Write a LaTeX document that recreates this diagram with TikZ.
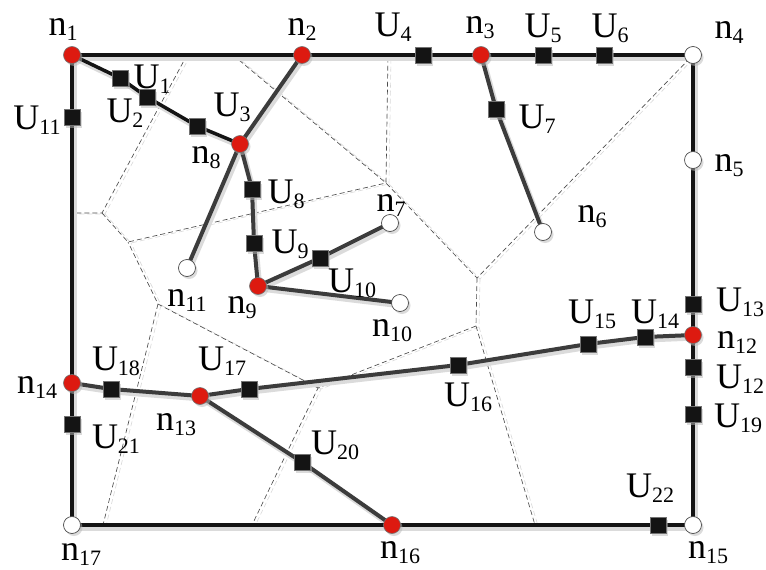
\documentclass[tikz,border=0pt]{standalone}
\usepackage{fontspec}
\setmainfont{Liberation Serif}
\usetikzlibrary{shadows}
\definecolor{nred}{HTML}{DD1A10}
\definecolor{edgegray}{HTML}{3C3C3C}
\newcommand\lbl[2]{#1\raisebox{-5pt}{\fontsize{22}{22}\selectfont #2}}
\begin{document}
\begin{tikzpicture}[x=1pt,y=-1pt,
  nshadow/.style={drop shadow={shadow xshift=2pt,shadow yshift=-2.5pt,fill=black!28}},
  redn/.style={circle,draw=black!55,line width=0.6pt,fill=nred,minimum size=17pt,inner sep=0pt,nshadow},
  whn/.style={circle,draw=black!70,line width=0.7pt,fill=white,minimum size=17pt,inner sep=0pt,nshadow},
  sq/.style={rectangle,fill=black!92,draw=black!55,line width=0.5pt,minimum size=16pt,inner sep=0pt,nshadow},
  lab/.style={inner sep=0pt,font=\fontsize{36}{40}\selectfont},
  bnd/.style={line width=3.5pt,draw=black!92,line cap=round,line join=round},
  edg/.style={line width=4pt,draw=edgegray,line cap=round,line join=round},
  shd/.style={line width=5pt,draw=black!14,line cap=round,line join=round,transform canvas={xshift=2pt,yshift=-3pt}},
  vor/.style={dash pattern=on 5pt off 3pt,line width=0.65pt,draw=black!70},
  vors/.style={dash pattern=on 5pt off 3pt,line width=0.6pt,draw=black!15,transform canvas={xshift=3pt,yshift=-1pt}}
]
\useasboundingbox (0,0) rectangle (766,570);
\fill[white] (0,0) rectangle (766,570);

% Voronoi vertices and border points
\coordinate (v1) at (102,213);
\coordinate (v2) at (128,242);
\coordinate (v3) at (386,183);
\coordinate (v4) at (477,278);
\coordinate (v5) at (476,326);
\coordinate (v6) at (318,388);
\coordinate (v7) at (158,304);
\coordinate (b1) at (187,55);
\coordinate (b2) at (72,213);
\coordinate (b3) at (388,55);
\coordinate (b4) at (233,55);
\coordinate (b5) at (693,55);
\coordinate (b6) at (535,525);
\coordinate (b7) at (252,525);
\coordinate (b8) at (103,525);

\foreach \s in {vors,vor}{
  \draw[\s] (b1) -- (v1) -- (b2);
  \draw[\s] (v1) -- (v2) -- (v3) -- (b3);
  \draw[\s] (b4) -- (v3) -- (v4) -- (b5);
  \draw[\s] (v4) -- (v5) -- (b6);
  \draw[\s] (v5) -- (v6) -- (b7);
  \draw[\s] (v6) -- (v7) -- (v2);
  \draw[\s] (v7) -- (b8);
}

% nodes (positions)
\coordinate (n1) at (72,55);
\coordinate (n2) at (302,55);
\coordinate (n3) at (481,55);
\coordinate (n4) at (693,55);
\coordinate (n5) at (693,160);
\coordinate (n6) at (543,232);
\coordinate (n7) at (390,223);
\coordinate (n8) at (240,144);
\coordinate (n9) at (258,286);
\coordinate (n10) at (400,303);
\coordinate (n11) at (187,268);
\coordinate (n12) at (693,335);
\coordinate (n13) at (200,396);
\coordinate (n14) at (72,383);
\coordinate (n15) at (693,525);
\coordinate (n16) at (392,525);
\coordinate (n17) at (72,525);
\coordinate (U1) at (120,78);
\coordinate (U2) at (147,97);
\coordinate (U3) at (197,126);
\coordinate (U4) at (423,55);
\coordinate (U5) at (543,55);
\coordinate (U6) at (604,55);
\coordinate (U7) at (496,109);
\coordinate (U8) at (252,189);
\coordinate (U9) at (254,243);
\coordinate (U10) at (320,258);
\coordinate (U11) at (72,117);
\coordinate (U12) at (693,367);
\coordinate (U13) at (693,304);
\coordinate (U14) at (645,337);
\coordinate (U15) at (588,344);
\coordinate (U16) at (458,365);
\coordinate (U17) at (249,389);
\coordinate (U18) at (111,389);
\coordinate (U19) at (693,414);
\coordinate (U20) at (302,462);
\coordinate (U21) at (72,424);
\coordinate (U22) at (658,525);

% connector shadows and connectors
\foreach \s/\t in {shd/shd,bnd/edg}{
  \draw[\s] (n1) -- (n2) -- (U4) -- (n3) -- (U5) -- (U6) -- (n4)
            -- (n5) -- (U13) -- (n12) -- (U12) -- (U19) -- (n15)
            -- (U22) -- (n16) -- (n17) -- (U21) -- (n14) -- (U11) -- cycle;
  \draw[\s] (n1) -- (U1) -- (U2) -- (U3) -- (n8);
  \draw[\t] (n2) -- (n8) -- (n11);
  \draw[\t] (n8) -- (U8) -- (U9) -- (n9);
  \draw[\t] (n9) -- (U10) -- (n7);
  \draw[\t] (n9) -- (n10);
  \draw[\t] (n3) -- (U7) -- (n6);
  \draw[\t] (n14) -- (U18) -- (n13) -- (U17) -- (U16) -- (U15) -- (U14) -- (n12);
  \draw[\t] (n13) -- (U20) -- (n16);
}

% circle nodes
\foreach \n in {n1,n2,n3,n8,n9,n12,n13,n14,n16}{\node[redn] (c\n) at (\n) {};}
\foreach \n in {n4,n5,n6,n7,n10,n11,n15,n17}{\node[whn] (c\n) at (\n) {};}
\foreach \n in {U1,U2,U3,U4,U5,U6,U7,U8,U9,U10,U11,U12,U13,U14,U15,U16,U17,U18,U19,U20,U21,U22}{\node[sq] (s\n) at (\n) {};}

% labels
\node[lab] (ln1) at (63,30) {\lbl{n}{1}};
\node[lab] (ln2) at (302,30) {\lbl{n}{2}};
\node[lab] (lU4) at (393,27) {\lbl{U}{4}};
\node[lab] (ln3) at (480,28) {\lbl{n}{3}};
\node[lab] (lU5) at (543,28) {\lbl{U}{5}};
\node[lab] (lU6) at (610,28) {\lbl{U}{6}};
\node[lab] (ln4) at (729,33) {\lbl{n}{4}};
\node[lab] (ln5) at (729,166) {\lbl{n}{5}};
\node[lab] (lU1) at (152,79) {\lbl{U}{1}};
\node[lab] (lU2) at (125,113) {\lbl{U}{2}};
\node[lab] (lU3) at (232,107) {\lbl{U}{3}};
\node[lab] (ln8) at (206,158) {\lbl{n}{8}};
\node[lab] (lU11) at (37,120) {\lbl{U}{11}};
\node[lab] (lU7) at (537,119) {\lbl{U}{7}};
\node[lab] (lU8) at (286,194) {\lbl{U}{8}};
\node[lab] (ln7) at (391,206) {\lbl{n}{7}};
\node[lab] (lU9) at (290,244) {\lbl{U}{9}};
\node[lab] (lU10) at (352,283) {\lbl{U}{10}};
\node[lab] (ln11) at (187,301) {\lbl{n}{11}};
\node[lab] (ln9) at (242,308) {\lbl{n}{9}};
\node[lab] (ln10) at (392,331) {\lbl{n}{10}};
\node[lab] (ln6) at (592,217) {\lbl{n}{6}};
\node[lab] (lU13) at (740,302) {\lbl{U}{13}};
\node[lab] (ln12) at (737,343) {\lbl{n}{12}};
\node[lab] (lU15) at (592,314) {\lbl{U}{15}};
\node[lab] (lU14) at (655,314) {\lbl{U}{14}};
\node[lab] (lU12) at (740,379) {\lbl{U}{12}};
\node[lab] (lU19) at (738,418) {\lbl{U}{19}};
\node[lab] (lU16) at (468,397) {\lbl{U}{16}};
\node[lab] (lU18) at (116,361) {\lbl{U}{18}};
\node[lab] (lU17) at (222,361) {\lbl{U}{17}};
\node[lab] (ln14) at (37,388) {\lbl{n}{14}};
\node[lab] (ln13) at (176,425) {\lbl{n}{13}};
\node[lab] (lU21) at (116,439) {\lbl{U}{21}};
\node[lab] (lU20) at (335,445) {\lbl{U}{20}};
\node[lab] (ln17) at (81,555) {\lbl{n}{17}};
\node[lab] (ln16) at (400,553) {\lbl{n}{16}};
\node[lab] (lU22) at (650,488) {\lbl{U}{22}};
\node[lab] (ln15) at (708,553) {\lbl{n}{15}};
\end{tikzpicture}
\end{document}
